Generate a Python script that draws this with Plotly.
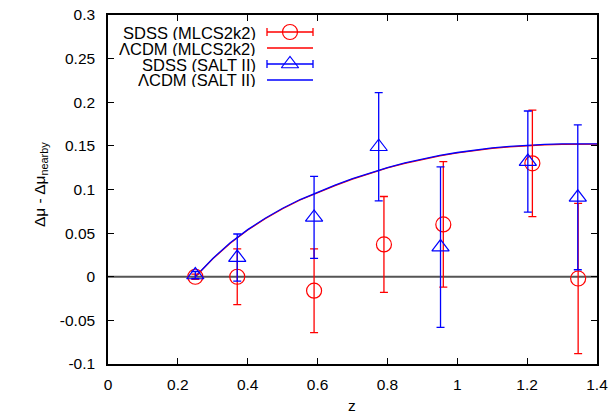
import plotly.graph_objects as go

# SDSS (MLCS2k2)
z_mlcs = [0.25, 0.37, 0.59, 0.79, 0.96, 1.215, 1.346]
mu_mlcs = [0.0, 0.0, -0.016, 0.037, 0.060, 0.130, -0.002]
err_mlcs = [0.003, 0.032, 0.048, 0.055, 0.072, 0.061, 0.086]

# SDSS (SALT II)
z_salt = [0.25, 0.37, 0.59, 0.775, 0.952, 1.202, 1.345]
mu_salt = [0.002, 0.022, 0.068, 0.149, 0.034, 0.132, 0.091]
err_salt = [0.004, 0.027, 0.047, 0.062, 0.092, 0.058, 0.083]

# LambdaCDM predictions
z_model = [0.25, 0.30, 0.35, 0.40, 0.45, 0.50, 0.55, 0.60, 0.65, 0.70, 0.75, 0.80, 0.85, 0.90,
           0.95, 1.00, 1.05, 1.10, 1.15, 1.20, 1.25, 1.30, 1.35, 1.40]
lcdm_salt = [0.0, 0.021, 0.039, 0.054, 0.067, 0.0785, 0.0885, 0.097, 0.105, 0.1124, 0.1192, 0.1252,
             0.1304, 0.135, 0.139, 0.1424, 0.1452, 0.1476, 0.1494, 0.1508, 0.1517, 0.1522, 0.1524, 0.1524]
lcdm_mlcs = [0.0, 0.0205, 0.0385, 0.0535, 0.0665, 0.078, 0.088, 0.0965, 0.1045, 0.1119, 0.1187, 0.1247,
             0.1299, 0.1345, 0.1385, 0.1419, 0.1447, 0.1471, 0.1489, 0.1503, 0.1512, 0.1517, 0.1519, 0.1519]

x_ticks = [0, 0.2, 0.4, 0.6, 0.8, 1, 1.2, 1.4]
x_tick_labels = ["0", "0.2", "0.4", "0.6", "0.8", "1", "1.2", "1.4"]
y_ticks = [-0.1, -0.05, 0, 0.05, 0.1, 0.15, 0.2, 0.25, 0.3]
y_tick_labels = ["-0.1", "-0.05", "0", "0.05", "0.1", "0.15", "0.2", "0.25", "0.3"]

legend_labels = ["SDSS (MLCS2k2)", "ΛCDM (MLCS2k2)", "SDSS (SALT II)", "ΛCDM (SALT II)"]

RED = "#ff0000"
BLUE = "#0000ff"
FONT = "Liberation Sans, Arial, sans-serif"
FS = 15.5
FS_LEG = 16.5

# plot area in pixels (for placing the legend / titles)
L, R, T, B = 108, 597, 15, 364


def px(xp):
    return (xp - L) / (R - L)


def py(yp):
    return (B - yp) / (B - T)


fig = go.Figure()

# zero line
fig.add_trace(go.Scatter(x=[0, 1.4], y=[0, 0], mode="lines",
                         line=dict(color="#555555", width=1.8), hoverinfo="skip", showlegend=False))

fig.add_trace(go.Scatter(x=z_model, y=lcdm_mlcs, mode="lines", line=dict(color=RED, width=1.3),
                         showlegend=False))
fig.add_trace(go.Scatter(x=z_model, y=lcdm_salt, mode="lines", line=dict(color=BLUE, width=1.3),
                         showlegend=False))

fig.add_trace(go.Scatter(x=z_mlcs, y=mu_mlcs, mode="markers",
                         marker=dict(symbol="circle-open", size=15, color=RED, line=dict(width=1.2)),
                         error_y=dict(type="data", array=err_mlcs, color=RED, thickness=1.3, width=4),
                         showlegend=False))
fig.add_trace(go.Scatter(x=z_salt, y=mu_salt, mode="markers",
                         marker=dict(symbol="triangle-up-open", size=15, color=BLUE, line=dict(width=1.2)),
                         error_y=dict(type="data", array=err_salt, color=BLUE, thickness=1.3, width=4),
                         showlegend=False))

# custom gnuplot-style legend on a pixel-scaled overlay axis
leg_rows = [32, 48, 64, 80]
leg_cx = 290
leg_half = 23
fig.add_trace(go.Scatter(x=[leg_cx], y=[leg_rows[0]], xaxis="x2", yaxis="y2", mode="markers",
                         marker=dict(symbol="circle-open", size=15, color=RED, line=dict(width=1.2)),
                         error_x=dict(type="data", array=[leg_half], color=RED, thickness=1.3, width=4),
                         showlegend=False, hoverinfo="skip"))
fig.add_trace(go.Scatter(x=[leg_cx - leg_half, leg_cx + leg_half], y=[leg_rows[1]] * 2, xaxis="x2", yaxis="y2",
                         mode="lines", line=dict(color=RED, width=1.3), showlegend=False, hoverinfo="skip"))
fig.add_trace(go.Scatter(x=[leg_cx], y=[leg_rows[2]], xaxis="x2", yaxis="y2", mode="markers",
                         marker=dict(symbol="triangle-up-open", size=15, color=BLUE, line=dict(width=1.2)),
                         error_x=dict(type="data", array=[leg_half], color=BLUE, thickness=1.3, width=4),
                         showlegend=False, hoverinfo="skip"))
fig.add_trace(go.Scatter(x=[leg_cx - leg_half, leg_cx + leg_half], y=[leg_rows[3]] * 2, xaxis="x2", yaxis="y2",
                         mode="lines", line=dict(color=BLUE, width=1.3), showlegend=False, hoverinfo="skip"))

for lab, yy in zip(legend_labels, leg_rows):
    fig.add_annotation(x=px(257), y=py(yy), xref="paper", yref="paper", text=lab, showarrow=False,
                       xanchor="right", yanchor="middle", borderpad=0, height=15,
                       font=dict(family=FONT, size=FS_LEG, color="black"))

# axis titles
fig.add_annotation(x=px(352), y=py(405), xref="paper", yref="paper", text="z", showarrow=False,
                   xanchor="center", yanchor="middle", font=dict(family=FONT, size=FS, color="black"))
fig.add_annotation(x=px(40), y=py(185), xref="paper", yref="paper", text="Δμ - Δμ<sub>nearby</sub>",
                   showarrow=False, textangle=-90, xanchor="center", yanchor="middle",
                   font=dict(family=FONT, size=FS, color="black"))

axis_common = dict(showline=True, mirror="ticks", linecolor="black", linewidth=1.5,
                   ticks="inside", ticklen=6, tickwidth=1, tickcolor="black",
                   showgrid=False, zeroline=False, automargin=False,
                   tickfont=dict(family=FONT, size=FS, color="black"))

fig.update_layout(
    width=616, height=416,
    margin=dict(l=L, r=616 - R, t=T, b=416 - B, autoexpand=False),
    paper_bgcolor="white", plot_bgcolor="white",
    font=dict(family=FONT, size=FS, color="black"),
    xaxis=dict(range=[0, 1.4], tickvals=x_ticks, ticktext=x_tick_labels, ticklabelstandoff=6,
               **axis_common),
    yaxis=dict(range=[-0.1, 0.3], tickvals=y_ticks, ticktext=y_tick_labels, ticklabelstandoff=8,
               **axis_common),
    xaxis2=dict(range=[L, R], overlaying="x", visible=False, fixedrange=True, automargin=False),
    yaxis2=dict(range=[B, T], overlaying="y", visible=False, fixedrange=True, automargin=False),
)

fig.write_html("out.html")
